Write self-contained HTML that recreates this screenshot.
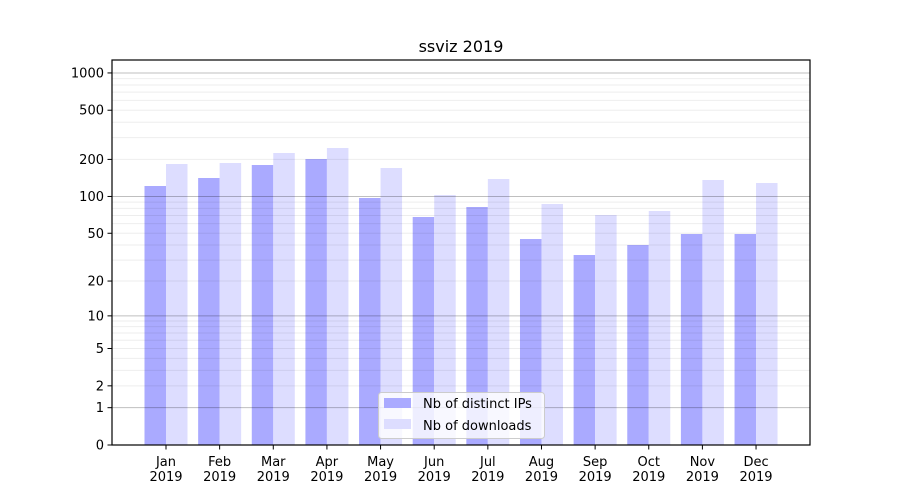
<!DOCTYPE html>
<html><head><meta charset="utf-8"><style>
html,body{margin:0;padding:0;background:#fff}
svg{display:block;font-family:"DejaVu Sans","Liberation Sans",sans-serif}
</style></head><body>
<svg id="s" width="900" height="500" xmlns="http://www.w3.org/2000/svg">
<rect width="900" height="500" fill="#fff"/>
<g id="bars"></g>
<g id="grid"></g>
<rect x="112" y="60" width="698" height="385" fill="none" stroke="#000" stroke-width="1.2"/>
<g id="ticks" font-size="13" fill="#000"></g>
<text x="461" y="52" font-size="16" text-anchor="middle">ssviz 2019</text>
<g>
<rect x="378.5" y="392.5" width="166" height="46" rx="3" fill="#fff" fill-opacity="0.8" stroke="#ccc"/>
<rect x="384" y="398" width="27" height="10" fill="#aaaaff"/>
<rect x="384" y="419" width="27" height="10" fill="#ddddff"/>
<text x="423" y="408" font-size="13">Nb of distinct IPs</text>
<text x="423" y="430" font-size="13">Nb of downloads</text>
</g>
</svg>
<script>
var NS="http://www.w3.org/2000/svg";
function el(p,t,a,txt){var e=document.createElementNS(NS,t);for(var k in a)e.setAttribute(k,a[k]);if(txt!==undefined)e.textContent=txt;document.getElementById(p).appendChild(e);return e;}
function Y(v){return 445-124*Math.log10(1+v);}
var blue=[186,178,165,159,198,217,207,239,255,245,234,234];
var light=[164,163,153,148,168,195,179,204,215,211,180,183];
var m=["Jan","Feb","Mar","Apr","May","Jun","Jul","Aug","Sep","Oct","Nov","Dec"];
for(var i=0;i<12;i++){var c=166+i*53.64;
el("bars","rect",{x:c-21.5,y:blue[i],width:21.5,height:445-blue[i],fill:"#aaaaff"});
el("bars","rect",{x:c,y:light[i],width:21.5,height:445-light[i],fill:"#ddddff"});
el("ticks","line",{x1:c,x2:c,y1:445,y2:449.5,stroke:"#000"});
el("ticks","text",{x:c,y:466,"text-anchor":"middle"},m[i]);
el("ticks","text",{x:c,y:481,"text-anchor":"middle"},"2019");}
[1,10,100].forEach(function(d){for(var k=2;k<=9;k++){var y=Y(k*d);el("grid","line",{x1:112,x2:810,y1:y,y2:y,stroke:"#000","stroke-opacity":0.07,"stroke-width":1});}});
[1,10,100,1000].forEach(function(v){var y=Y(v);el("grid","line",{x1:112,x2:810,y1:y,y2:y,stroke:"#000","stroke-opacity":0.25,"stroke-width":1});});
[0,1,2,5,10,20,50,100,200,500,1000].forEach(function(v){var y=Y(v);
el("ticks","line",{x1:107.5,x2:112,y1:y,y2:y,stroke:"#000"});
el("ticks","text",{x:104,y:y+4.5,"text-anchor":"end"},v);});
</script>
</body></html>
